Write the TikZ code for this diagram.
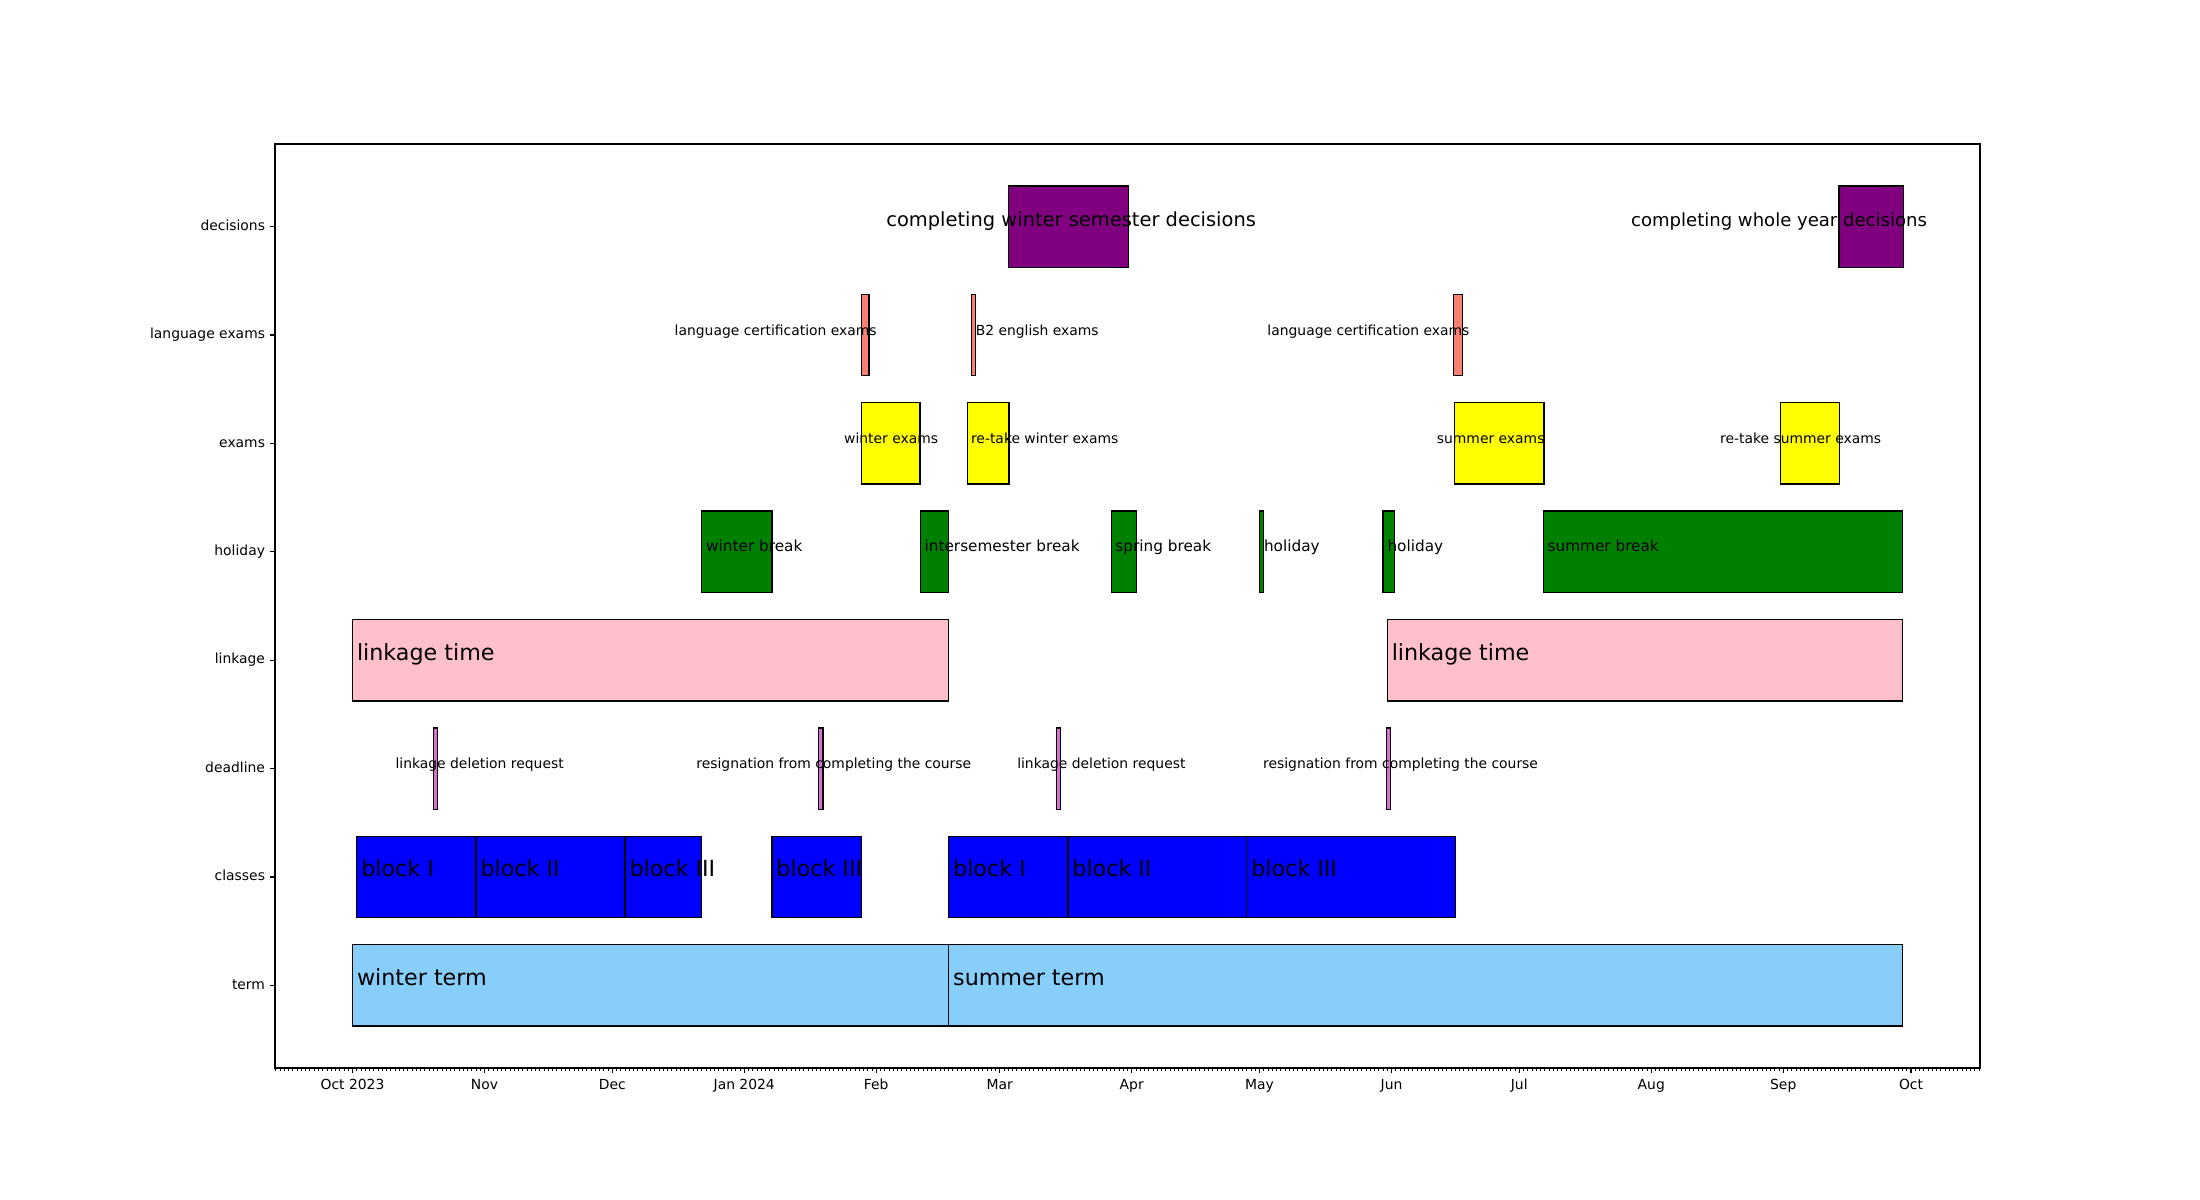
\documentclass[tikz,border=0pt]{standalone}
\usepackage{fontspec}
\setmainfont{DejaVu Sans}
\usetikzlibrary{calc}

\definecolor{termblue}{HTML}{87CEFA}
\definecolor{classblue}{HTML}{0000FF}
\definecolor{deadorchid}{HTML}{DA70D6}
\definecolor{linkpink}{HTML}{FFC0CB}
\definecolor{holgreen}{HTML}{008000}
\definecolor{examyellow}{HTML}{FFFF00}
\definecolor{langsalmon}{HTML}{FA8072}
\definecolor{decpurple}{HTML}{800080}

\begin{document}
\begin{tikzpicture}[
  x=3.0659pt, y=78.04pt,
  every node/.style={font=\fontsize{10}{12}\selectfont, inner sep=0pt},
  bar/.style={draw, line width=1pt},
  tag/.style={anchor=base west},
  bigtag/.style={tag, font=\fontsize{16}{19}\selectfont},
  midtag/.style={tag, font=\fontsize{11}{13}\selectfont},
  dectag/.style={tag, font=\fontsize{13}{16}\selectfont},
]
% Canvas: x in days from 1 Oct 2023, y in rows (term = 0)
\useasboundingbox (-82.78,-1.9804) rectangle (433.87,9.0908);
\def\xl{-18.2} \def\xr{382.2}
\def\yb{-0.7625} \def\yt{7.7623}
\def\hh{0.375}

% Term
\foreach \s/\e in {0/140, 140/364}
  \draw[bar, fill=termblue] (\s,-\hh) rectangle (\e,\hh);
\node[bigtag] (winterterm) at (1,0) {winter term};
\node[bigtag] (summerterm) at (141,0) {summer term};

% Classes
\foreach \s/\e in {1/29, 29/64, 64/82, 98.5/119.5, 140/168, 168/210, 210/259}
  \draw[bar, fill=classblue] (\s,1-\hh) rectangle (\e,1+\hh);
\node[bigtag] (blockwa) at (2,1) {block I};
\node[bigtag] (blockwb) at (30,1) {block II};
\node[bigtag] (blockwc) at (65,1) {block III};
\node[bigtag] (blockwd) at (99.5,1) {block III};
\node[bigtag] (blocksa) at (141,1) {block I};
\node[bigtag] (blocksb) at (169,1) {block II};
\node[bigtag] (blocksc) at (211,1) {block III};

% Deadline
\foreach \s/\e in {19/20, 109.5/110.5, 165.3/166.3, 242.8/243.8}
  \draw[bar, fill=deadorchid] (\s,2-\hh) rectangle (\e,2+\hh);
\node[tag] (delwinter) at (10.05,2) {linkage deletion request};
\node[tag] (reswinter) at (80.7,2) {resignation from completing the course};
\node[tag] (delsummer) at (156.05,2) {linkage deletion request};
\node[tag] (ressummer) at (213.8,2) {resignation from completing the course};

% Linkage
\foreach \s/\e in {0/140, 243/364}
  \draw[bar, fill=linkpink] (\s,3-\hh) rectangle (\e,3+\hh);
\node[bigtag] (linkwinter) at (1,3) {linkage time};
\node[bigtag] (linksummer) at (244,3) {linkage time};

% Holiday
\foreach \s/\e in {82/98.5, 133.4/140, 178.3/184.1, 213/214, 242/244.7, 279.7/364}
  \draw[bar, fill=holgreen] (\s,4-\hh) rectangle (\e,4+\hh);
\node[midtag] (winterbreak) at (83,4) {winter break};
\node[midtag] (interbreak) at (134.3,4) {intersemester break};
\node[midtag] (springbreak) at (179.1,4) {spring break};
\node[midtag] (holidaya) at (214,4) {holiday};
\node[midtag] (holidayb) at (243,4) {holiday};
\node[midtag] (summerbreak) at (280.6,4) {summer break};

% Exams
\foreach \s/\e in {119.5/133.3, 144.4/154.2, 258.8/279.8, 335.3/349.2}
  \draw[bar, fill=examyellow] (\s,5-\hh) rectangle (\e,5+\hh);
\node[tag] (winterexams) at (115.4,5) {winter exams};
\node[tag] (retakewinter) at (145.2,5) {re-take winter exams};
\node[tag] (summerexams) at (254.6,5) {summer exams};
\node[tag] (retakesummer) at (321.1,5) {re-take summer exams};

% Language exams
\foreach \s/\e in {119.5/121.3, 145.3/146.3, 258.6/260.6}
  \draw[bar, fill=langsalmon] (\s,6-\hh) rectangle (\e,6+\hh);
\node[tag] (certwinter) at (75.6,6) {language certification exams};
\node[tag] (bexams) at (146.3,6) {B2 english exams};
\node[tag] (certsummer) at (214.8,6) {language certification exams};

% Decisions
\foreach \s/\e in {154/182.2, 349.1/364.2}
  \draw[bar, fill=decpurple] (\s,7-\hh) rectangle (\e,7+\hh);
\node[dectag, font=\fontsize{14}{17}\selectfont] (decwinter) at (125.3,7)
  {completing winter semester decisions};
\node[dectag] (decyear) at (300.2,7) {completing whole year decisions};

% Axes frame
\draw[line width=0.8pt] (\xl,\yb) rectangle (\xr,\yt);
% x axis: daily minor ticks, monthly major ticks
\foreach \d in {-18,...,382}
  \draw[line width=0.6pt] (\d,\yb) -- ++(0,-2pt);
\foreach \d/\m in {0/Oct 2023, 31/Nov, 61/Dec, 92/Jan 2024, 123/Feb, 152/Mar,
                   183/Apr, 213/May, 244/Jun, 274/Jul, 305/Aug, 336/Sep, 366/Oct} {
  \draw[line width=0.8pt] (\d,\yb) -- ++(0,-3.5pt);
  \node[anchor=north] (month\d) at ([yshift=-8pt]\d,\yb) {\m};
}
% y axis: one tick per row
\foreach \r/\lab in {0/term, 1/classes, 2/deadline, 3/linkage, 4/holiday,
                     5/exams, 6/language exams, 7/decisions} {
  \draw[line width=0.8pt] (\xl,\r) -- ++(-3.5pt,0);
  \node[anchor=mid east] (row\r) at ([xshift=-7pt]\xl,\r) {\lab};
}
\end{tikzpicture}
\end{document}
